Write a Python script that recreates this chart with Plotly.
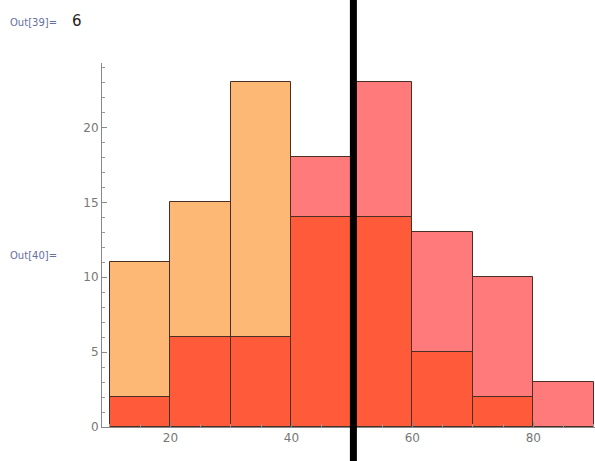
import plotly.graph_objects as go

# Histogram data (bin left edges, width 10)
bin_lefts = [10, 20, 30, 40, 50, 60, 70, 80]
counts_a = [11, 15, 23, 14, 14, 5, 2, 0]    # orange dataset
counts_b = [2, 6, 6, 18, 23, 13, 10, 3]     # pink dataset
x_ticks = [20, 40, 60, 80]
y_ticks = [0, 5, 10, 15, 20]

bin_w = 10
centers = [l + bin_w / 2 for l in bin_lefts]
overlap = [min(a, b) for a, b in zip(counts_a, counts_b)]
excess_a = [a - m for a, m in zip(counts_a, overlap)]
excess_b = [b - m for b, m in zip(counts_b, overlap)]

edge = dict(color="#4a3024", width=1)

fig = go.Figure()
fig.add_trace(go.Bar(x=centers, y=overlap, base=[0] * len(centers), width=bin_w,
                     marker=dict(color="#FF5B3B", line=edge), showlegend=False))
fig.add_trace(go.Bar(x=centers, y=excess_a, base=overlap, width=bin_w,
                     marker=dict(color="#FDB875", line=edge), showlegend=False))
fig.add_trace(go.Bar(x=centers, y=excess_b, base=overlap, width=bin_w,
                     marker=dict(color="#FF7B7B", line=edge), showlegend=False))

fig.update_layout(
    width=595, height=461,
    margin=dict(l=102, r=0, t=63, b=34),
    paper_bgcolor="white", plot_bgcolor="white",
    barmode="overlay", bargap=0,
    font=dict(family="DejaVu Sans, sans-serif", size=11, color="#777777"),
    xaxis=dict(range=[8.68, 90.2], tickvals=x_ticks, showgrid=False, zeroline=False,
               showline=True, linecolor="#888888", linewidth=1,
               ticks="inside", ticklen=5, tickcolor="#888888",
               minor=dict(dtick=5, tick0=0, ticks="inside", ticklen=3, tickcolor="#999999"),
               tickfont=dict(size=12, color="#777777")),
    yaxis=dict(range=[0, 24.3], tickvals=y_ticks, showgrid=False, zeroline=False,
               showline=True, linecolor="#888888", linewidth=1,
               ticks="inside", ticklen=5, tickcolor="#888888",
               minor=dict(dtick=1, tick0=0, ticks="inside", ticklen=3, tickcolor="#999999"),
               tickfont=dict(size=12, color="#777777")),
    shapes=[dict(type="line", xref="x", yref="paper", x0=50.25, x1=50.25, y0=-0.2, y1=1.3,
                 line=dict(color="black", width=7))],
    annotations=[
        dict(text="Out[39]=", xref="paper", yref="paper", x=-0.19, y=1.11,
             xanchor="left", yanchor="middle", showarrow=False,
             font=dict(size=10, color="#6670a0")),
        dict(text="6", xref="paper", yref="paper", x=-0.065, y=1.115,
             xanchor="left", yanchor="middle", showarrow=False,
             font=dict(size=15, color="#222222")),
        dict(text="Out[40]=", xref="paper", yref="paper", x=-0.19, y=0.47,
             xanchor="left", yanchor="middle", showarrow=False,
             font=dict(size=10, color="#6670a0")),
    ],
)

fig.write_html("out.html", config={"displayModeBar": False},
               post_script="document.body.style.margin='0';")
